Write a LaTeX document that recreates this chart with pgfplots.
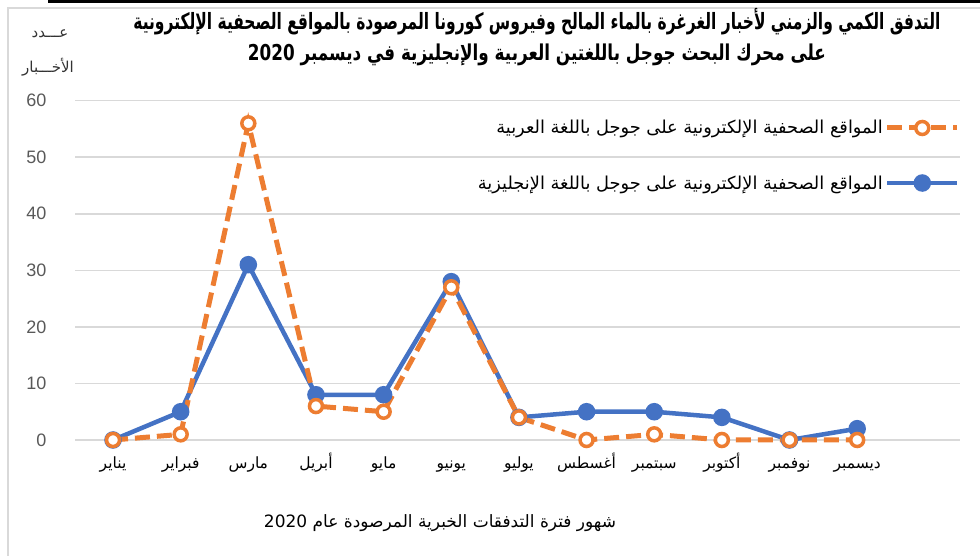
\documentclass[border=0pt]{standalone}
\usepackage{fontspec}
\setmainfont{Liberation Sans}
\newfontfamily\arabicfont[Script=Arabic]{DejaVu Sans}
\usepackage{pgfplots}
\pgfplotsset{compat=1.18}
\TeXXeTstate=1
\newcommand{\ar}[1]{{\arabicfont\beginR #1\endR}}
\definecolor{xlorange}{HTML}{ED7D31}
\definecolor{xlblue}{HTML}{4472C4}
\definecolor{xlgrid}{HTML}{D9D9D9}
\definecolor{xltext}{HTML}{595959}

\begin{document}
\begin{tikzpicture}[x=1pt,y=1pt]
\path[use as bounding box] (0,0) rectangle (980,556);
\draw[xlgrid, line width=1.5pt] (8,0) -- (8,548) -- (980,548);
\draw[black, line width=2.5pt] (48,554.5) -- (980,554.5);

\begin{axis}[
  at={(75pt,116pt)}, anchor=south west,
  scale only axis, width=885pt, height=339.3pt,
  xmin=-0.562, xmax=12.52, ymin=0, ymax=60,
  xtick={0,...,11},
  xticklabels={\ar{يناير},\ar{فبراير},\ar{مارس},\ar{أبريل},\ar{مايو},\ar{يونيو},\ar{يوليو},\ar{أغسطس},\ar{سبتمبر},\ar{أكتوبر},\ar{نوفمبر},\ar{ديسمبر}},
  ytick={0,10,...,60},
  axis line style={draw=none},
  major tick length=0pt,
  ymajorgrids, grid style={xlgrid, line width=1.5pt},
  yticklabel style={text=xltext, font=\fontsize{18}{20}\selectfont, xshift=-25pt},
  xticklabel style={font=\fontsize{15.5}{18}\selectfont, text height=13pt, text depth=5pt, yshift=-12pt},
  /pgf/number format/assume math mode=true,
  clip=false,
  legend style={at={(rel axis cs:1,0.8385)}, anchor=east, draw=none, fill=none,
    font=\fontsize{17.8}{20}\selectfont, row sep=36pt, inner sep=0pt},
  legend plot pos=right,
  legend cell align=right,
  reverse legend,
  legend image code/.code={\draw[mark repeat=2,mark phase=2,#1] plot coordinates {(0pt,0pt) (35pt,0pt) (70pt,0pt)};},
]
\addplot[xlblue, line width=4.5pt, mark=*, mark size=6.5pt, mark options={solid, fill=xlblue}]
  coordinates {(0,0)(1,5)(2,31)(3,8)(4,8)(5,28)(6,4)(7,5)(8,5)(9,4)(10,0)(11,2)};
\addlegendentry{\ar{المواقع الصحفية الإلكترونية على جوجل باللغة الإنجليزية}}
\addplot[xlorange, line width=5pt, dash pattern=on 15pt off 7pt, mark=*, mark size=6.5pt,
  mark options={solid, fill=white, draw=xlorange, line width=3.5pt}]
  coordinates {(0,0)(1,1)(2,56)(3,6)(4,5)(5,27)(6,4)(7,0)(8,1)(9,0)(10,0)(11,0)};
\addlegendentry{\ar{المواقع الصحفية الإلكترونية على جوجل باللغة العربية}}
\end{axis}

\node[font=\fontsize{19}{22}\selectfont\bfseries] at (537,534) {\resizebox{807pt}{!}{\scalebox{1}[1.45]{\ar{التدفق الكمي والزمني لأخبار الغرغرة بالماء المالح وفيروس كورونا المرصودة بالمواقع الصحفية الإلكترونية}}}};
\node[font=\fontsize{19}{22}\selectfont\bfseries] at (537,501) {\resizebox{578pt}{!}{\scalebox{1}[1.3]{\ar{على محرك البحث جوجل باللغتين العربية والإنجليزية في ديسمبر \beginL 2020\endL}}}};
\node[font=\fontsize{15}{18}\selectfont, text=black!80] at (50,522) {\ar{عـــدد}};
\node[font=\fontsize{15}{18}\selectfont, text=black!80] at (48,489) {\ar{الأخـــبار}};
\node[font=\fontsize{17}{20}\selectfont] at (440,33) {\ar{شهور فترة التدفقات الخبرية المرصودة عام \beginL 2020\endL}};
\end{tikzpicture}
\end{document}
